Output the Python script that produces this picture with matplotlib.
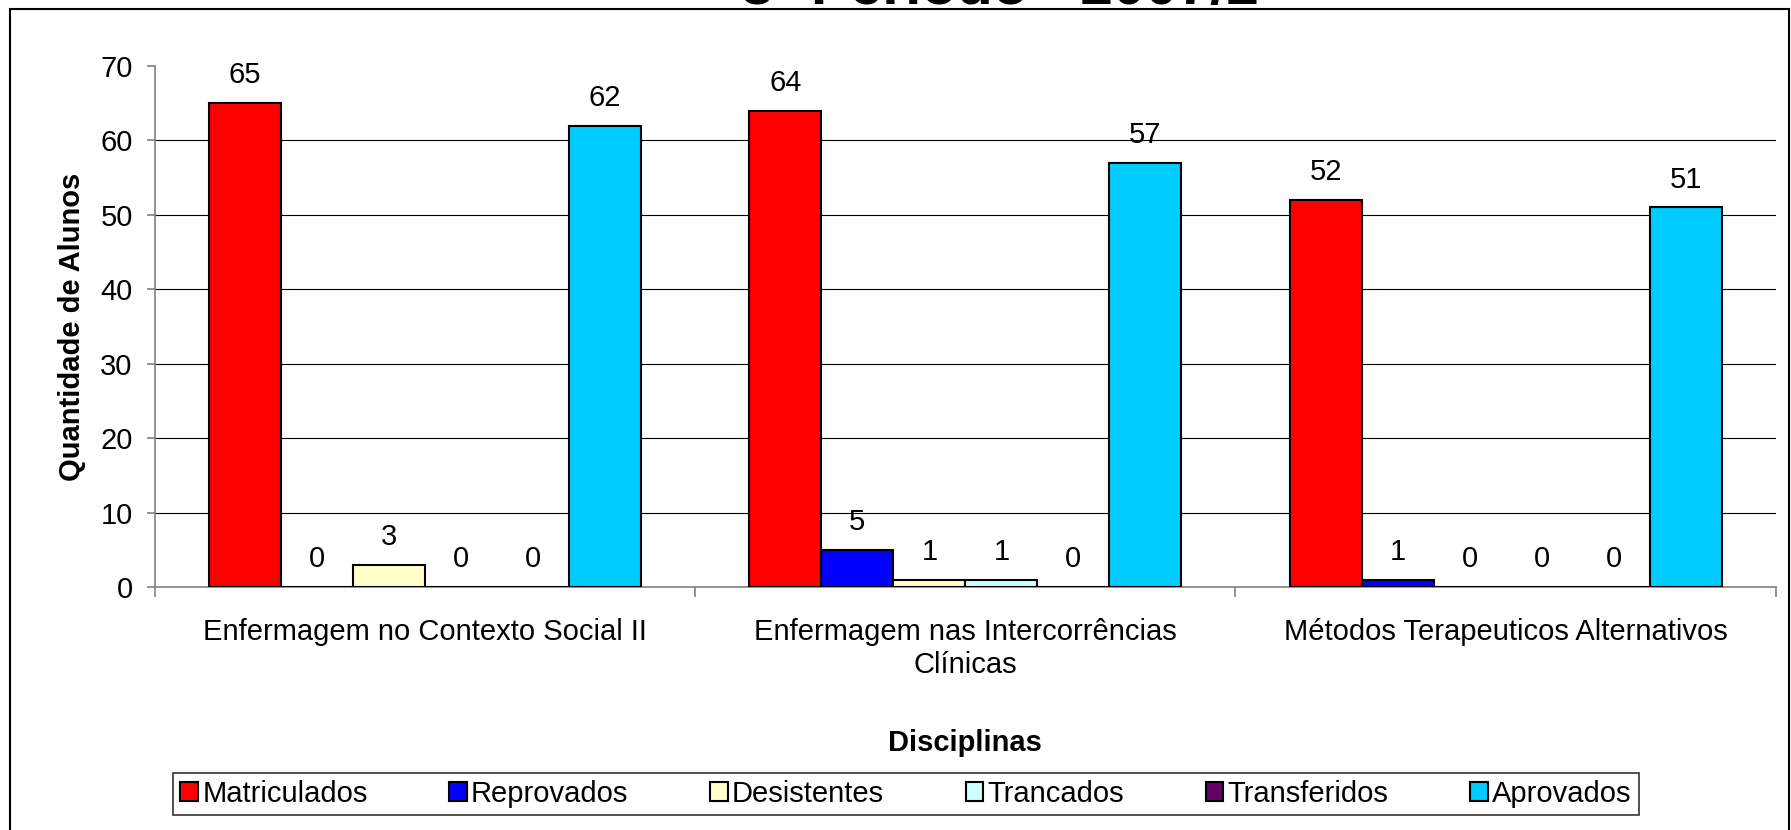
import numpy as np
import matplotlib.pyplot as plt
from matplotlib.patches import Rectangle

plt.rcParams['font.family'] = ['Liberation Sans', 'DejaVu Sans']

# Data
disciplinas = ['Enfermagem no Contexto Social II',
               'Enfermagem nas Intercorrências\nClínicas',
               'Métodos Terapeuticos Alternativos']
series = ['Matriculados', 'Reprovados', 'Desistentes', 'Trancados', 'Transferidos', 'Aprovados']
matriculados = [65, 64, 52]
reprovados = [0, 5, 1]
desistentes = [3, 1, 0]
trancados = [0, 1, 0]
transferidos = [0, 0, 0]
aprovados = [62, 57, 51]
values = [matriculados, reprovados, desistentes, trancados, transferidos, aprovados]
colors = ['#FF0000', '#0000FF', '#FFFFCC', '#CCFFFF', '#660066', '#00CCFF']

fs = 21

fig = plt.figure(figsize=(17.91, 8.30), dpi=100)
ax = fig.add_axes([0.0865, 0.2928, 0.905, 0.6277])

x = np.arange(len(disciplinas))
width = 1 / 7.5
for i, (name, vals, col) in enumerate(zip(series, values, colors)):
    pos = x + (i - 2.5) * width
    bars = ax.bar(pos, vals, width, color=col, edgecolor='black', linewidth=1.5,
                  label=name, zorder=3)
    for b, v in zip(bars, vals):
        ax.annotate(str(v), (b.get_x() + b.get_width() / 2, v), xytext=(0, 10),
                    textcoords='offset points', ha='center', va='bottom', fontsize=fs)

ax.set_xlim(-0.5, 2.5)
ax.set_ylim(0, 70)
ax.set_yticks(range(0, 71, 10))
for yv in range(10, 70, 10):
    ax.axhline(yv, color='black', linewidth=0.8, zorder=1)

# category labels without tick marks, separators as ticks
ax.set_xticks([-0.5, 0.5, 1.5, 2.5])
ax.set_xticklabels([])
ax.set_xticks(x, minor=True)
ax.set_xticklabels(disciplinas, minor=True, fontsize=fs, linespacing=1.25)
ax.tick_params(axis='x', which='minor', length=0, pad=22)
ax.tick_params(axis='x', which='major', length=7, color='#808080', width=1.2, direction='out')
ax.tick_params(axis='y', length=6, color='#808080', width=1.2, labelsize=fs, pad=10)

for s in ['top', 'right']:
    ax.spines[s].set_visible(False)
for s in ['left', 'bottom']:
    ax.spines[s].set_color('#808080')
    ax.spines[s].set_linewidth(1.2)

ax.set_ylabel('Quantidade de Alunos', fontsize=fs, fontweight='bold', labelpad=10)
fig.text(0.5 * (0.0865 + 0.9915), 1 - 743 / 830, 'Disciplinas', fontsize=fs,
         fontweight='bold', ha='center', va='center')

# title (cut off at the top in the original)
fig.text(1000 / 1791, 1 - 4 / 830, '3º Período - 2007/2', fontsize=42,
         fontweight='bold', ha='center', va='baseline')

leg = fig.legend(loc='center', bbox_to_anchor=(0.5 * (172 + 1640) / 1791, 1 - 794 / 830),
                 ncol=6, fontsize=fs, frameon=True, fancybox=False, borderaxespad=0,
                 handlelength=0.6, handleheight=0.6, handletextpad=0.15,
                 columnspacing=2.8, borderpad=0.25)
leg.get_frame().set_edgecolor('black')
leg.get_frame().set_linewidth(1.2)

# outer frame
fig.patches.append(Rectangle((10 / 1791, -0.02), 1779 / 1791, 1.02 - 9 / 830,
                             transform=fig.transFigure, fill=False,
                             edgecolor='black', linewidth=1.5))

fig.savefig('out.png', dpi=100)
